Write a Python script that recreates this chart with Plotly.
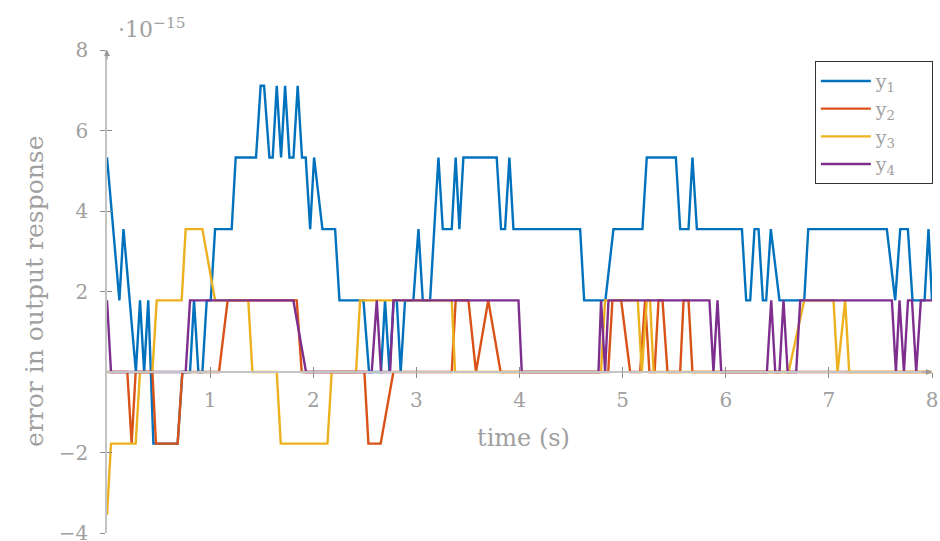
import plotly.graph_objects as go

# values in units of 1e-15
t1 = [0.00, 0.12, 0.16, 0.28, 0.32, 0.36, 0.40, 0.45, 0.685, 0.731, 0.805, 0.844, 0.886, 0.925, 0.967,
      1.006, 1.048, 1.209, 1.248, 1.445, 1.49, 1.523, 1.575, 1.607, 1.646, 1.688, 1.727, 1.769, 1.808,
      1.849, 1.891, 1.927, 1.97, 2.008, 2.089, 2.212, 2.254, 2.487, 2.541, 2.657, 2.696, 2.739, 2.78,
      2.81, 2.848, 2.89, 2.971, 3.02, 3.062, 3.133, 3.214, 3.256, 3.343, 3.381, 3.417, 3.456, 3.779,
      3.821, 3.86, 3.902, 3.941, 4.588, 4.627, 4.833, 4.911, 5.192, 5.234, 5.516, 5.558, 5.639, 5.677,
      5.72, 6.157, 6.198, 6.237, 6.279, 6.318, 6.36, 6.392, 6.437, 6.521, 6.761, 6.80, 7.562, 7.643,
      7.692, 7.766, 7.811, 7.928, 7.966, 8.0]
y1 = [5.33, 1.78, 3.55, 0, 1.78, 0, 1.78, -1.78, -1.78, 0, 0, 1.78, 0, 0, 1.78,
      1.78, 3.55, 3.55, 5.33, 5.33, 7.11, 7.11, 5.33, 5.33, 7.11, 5.33, 7.11, 5.33, 5.33,
      7.11, 5.33, 5.33, 3.55, 5.33, 3.55, 3.55, 1.78, 1.78, 0, 0, 1.78, 0, 1.78,
      1.78, 0, 1.78, 1.78, 3.55, 1.78, 1.78, 5.33, 3.55, 3.55, 5.33, 3.55, 5.33, 5.33,
      3.55, 3.55, 5.33, 3.55, 3.55, 1.78, 1.78, 3.55, 3.55, 5.33, 5.33, 3.55, 3.55, 5.33,
      3.55, 3.55, 1.78, 1.78, 3.55, 3.55, 1.78, 1.78, 3.55, 1.78, 1.78, 3.55, 3.55, 1.78,
      3.55, 3.55, 1.78, 1.78, 3.55, 1.78]

t2 = [0.00, 0.197, 0.239, 0.278, 0.44, 0.475, 0.685, 0.731, 1.086, 1.17, 1.84, 1.888, 2.496, 2.535,
      2.654, 2.777, 3.343, 3.381, 3.505, 3.578, 3.697, 3.817, 4.86, 4.901, 4.986, 5.073, 5.17, 5.218,
      5.26, 5.31, 5.348, 5.387, 5.435, 5.558, 5.591, 5.639, 5.677, 8.0]
y2 = [0, 0, -1.78, 0, 0, -1.78, -1.78, 0, 0, 1.78, 1.78, 0, 0, -1.78,
      -1.78, 0, 0, 1.78, 1.78, 0, 1.78, 0, 0, 1.78, 1.78, 0, 0, 1.78,
      0, 0, 1.78, 1.78, 0, 0, 1.78, 1.78, 0, 0]

t3 = [0.00, 0.039, 0.278, 0.32, 0.44, 0.482, 0.724, 0.763, 0.925, 1.048, 1.37, 1.41, 1.646, 1.685,
      2.138, 2.179, 2.415, 2.454, 3.343, 3.375, 4.79, 4.83, 5.147, 5.186, 5.234, 5.266, 5.30, 6.609,
      6.761, 7.045, 7.084, 7.158, 7.197, 8.0]
y3 = [-3.55, -1.78, -1.78, 0, 0, 1.78, 1.78, 3.55, 3.55, 1.78, 1.78, 0, 0, -1.78,
      -1.78, 0, 0, 1.78, 1.78, 0, 0, 1.78, 1.78, 0, 1.78, 1.78, 0, 0,
      1.78, 1.78, 0, 1.78, 0, 0]

t4 = [0.00, 0.039, 0.763, 0.805, 1.807, 1.93, 2.567, 2.616, 2.657, 2.745, 2.778, 3.99, 4.022, 4.766,
      4.791, 4.83, 4.863, 5.842, 5.881, 5.92, 5.956, 6.399, 6.441, 6.48, 6.521, 6.56, 6.60, 6.683,
      6.722, 7.611, 7.65, 7.685, 7.728, 7.767, 7.806, 7.847, 7.892, 8.0]
y4 = [1.78, 0, 0, 1.78, 1.78, 0, 0, 1.78, 0, 0, 1.78, 1.78, 0, 0,
      1.78, 0, 1.78, 1.78, 0, 1.78, 0, 0, 1.78, 0, 0, 1.78, 0, 0,
      1.78, 1.78, 0, 1.78, 0, 1.78, 1.78, 0, 1.78, 1.78]

names = ["y<sub>1</sub>", "y<sub>2</sub>", "y<sub>3</sub>", "y<sub>4</sub>"]
colors = ["#0072BD", "#D95319", "#EDB120", "#7E2F8E"]

x_ticks = [1, 2, 3, 4, 5, 6, 7, 8]
x_ticktext = ["1", "2", "3", "4", "5", "6", "7", "8"]
y_ticks = [-4, -2, 2, 4, 6, 8]
y_ticktext = ["\u22124", "\u22122", "2", "4", "6", "8"]

FONT = "DejaVu Serif"
GRAY = "#a0a0a0"
PAD = "\u00a0" * 5

fig = go.Figure()
for t, y, n, c in zip([t1, t2, t3, t4], [y1, y2, y3, y4], names, colors):
    fig.add_trace(go.Scatter(x=t, y=y, mode="lines", name=n + PAD,
                             line=dict(color=c, width=2.4)))

axis_common = dict(showgrid=False, zeroline=False)
fig.update_layout(
    width=940, height=541,
    margin=dict(l=107, r=8, t=50, b=8, autoexpand=False),
    plot_bgcolor="white", paper_bgcolor="white",
    font=dict(family=FONT, color=GRAY, size=20),
    xaxis=dict(range=[0, 8], anchor="free", position=1/3, tickvals=x_ticks, ticktext=x_ticktext,
               ticks="outside", ticklen=5, tickcolor="#8a8a8a", showline=True, linecolor="#c4c4c4",
               linewidth=1.5, ticklabelstandoff=5, ticklabeloverflow="allow",
               tickfont=dict(size=20, color=GRAY), **axis_common),
    xaxis2=dict(range=[0, 8], overlaying="x", anchor="free", position=1/3, tickvals=x_ticks,
                ticks="inside", ticklen=5, tickcolor="#8a8a8a", showticklabels=False, showline=False,
                **axis_common),
    yaxis=dict(range=[-4, 8], tickvals=y_ticks, ticktext=y_ticktext, ticks="outside", ticklen=5,
               tickcolor="#8a8a8a", showline=True, linecolor="#c4c4c4", linewidth=1.5,
               ticklabelstandoff=8, ticklabeloverflow="allow",
               tickfont=dict(size=20, color=GRAY), **axis_common),
    yaxis2=dict(range=[-4, 8], overlaying="y", tickvals=y_ticks, ticks="inside", ticklen=5,
                tickcolor="#8a8a8a", showticklabels=False, showline=False, **axis_common),
    legend=dict(x=0.858, y=0.977, xanchor="left", yanchor="top", bordercolor="#333333",
                borderwidth=1, bgcolor="white", font=dict(size=19, color=GRAY), itemwidth=50,
                tracegroupgap=0),
    showlegend=True,
)

# dummy trace so the overlay tick axes render
fig.add_trace(go.Scatter(x=[None], y=[None], xaxis="x2", yaxis="y2", showlegend=False, hoverinfo="skip"))

ann = []
ann.append(dict(x=8, y=0, xref="x", yref="y", ax=-11, ay=0, showarrow=True, arrowhead=2,
                arrowsize=1, arrowwidth=1.2, arrowcolor="#9a9a9a", text="", standoff=0))
ann.append(dict(x=0, y=8, xref="x", yref="y", ax=0, ay=11, showarrow=True, arrowhead=2,
                arrowsize=1, arrowwidth=1.2, arrowcolor="#9a9a9a", text="", standoff=0))
ann.append(dict(x=4.04, y=-1.64, xref="x", yref="y", text="time (s)", showarrow=False,
                font=dict(size=24, color=GRAY, family=FONT)))
ann.append(dict(x=-0.108, y=0.5, xref="paper", yref="paper", text="error in output response",
                textangle=-90, showarrow=False, font=dict(size=25, color=GRAY, family=FONT)))
ann.append(dict(x=0.011, y=1.045, xref="paper", yref="paper", xanchor="left", yanchor="middle",
                text="\u00b710<sup>\u221215</sup>", showarrow=False,
                font=dict(size=22, color=GRAY, family=FONT)))
fig.update_layout(annotations=ann)

fig.write_html("out.html", config={"displayModeBar": False},
               post_script="document.body.style.margin='0';"
                           "document.documentElement.style.overflow='hidden';"
                           "document.body.style.overflow='hidden';")
